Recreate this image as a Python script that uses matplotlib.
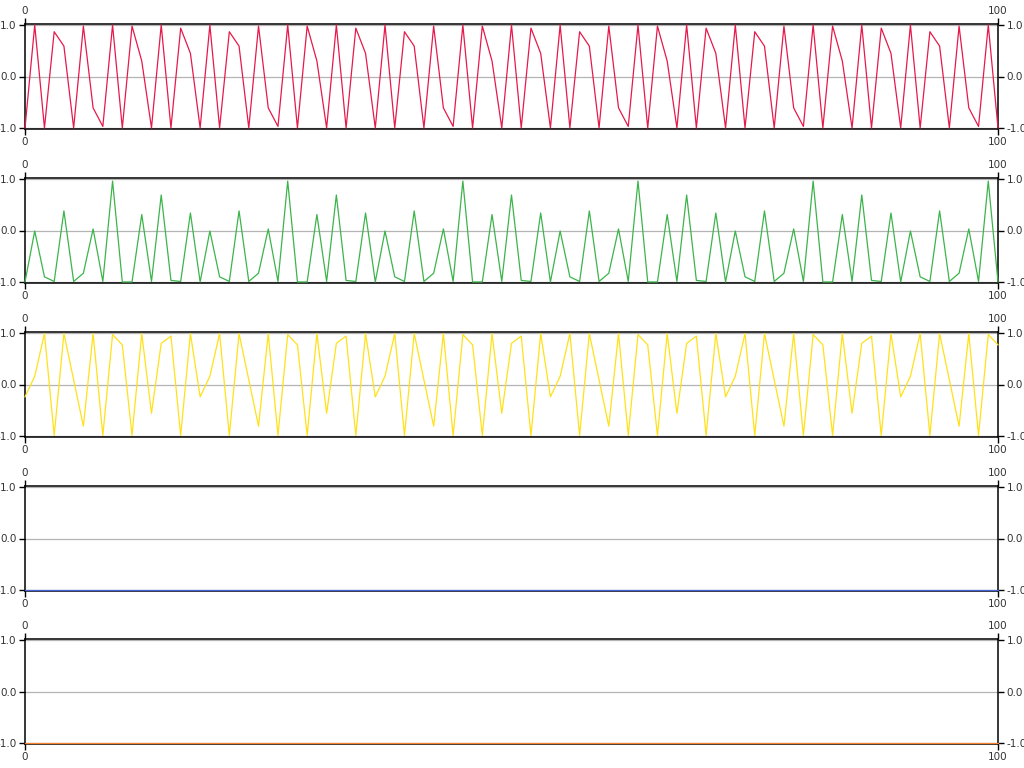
import matplotlib
matplotlib.use("Agg")
import matplotlib.pyplot as plt

x_values = list(range(101))

red_values = [
    -1, 1, -1, 0.87, 0.59, -1, 0.98, -0.61, -0.97, 1, -1, 0.98, 0.30, -1, 1, -1, 0.94, 0.45,
    -1, 1, -1, 0.87, 0.59, -1, 0.98, -0.61, -0.97, 1, -1, 0.98, 0.30, -1, 1, -1, 0.94, 0.45,
    -1, 1, -1, 0.87, 0.59, -1, 0.98, -0.61, -0.97, 1, -1, 0.98, 0.30, -1, 1, -1, 0.94, 0.45,
    -1, 1, -1, 0.87, 0.59, -1, 0.98, -0.61, -0.97, 1, -1, 0.98, 0.30, -1, 1, -1, 0.94, 0.45,
    -1, 1, -1, 0.87, 0.59, -1, 0.98, -0.61, -0.97, 1, -1, 0.98, 0.30, -1, 1, -1, 0.94, 0.45,
    -1, 1, -1, 0.87, 0.59, -1, 0.98, -0.61, -0.97, 1, -1,
]

green_values = [
    -1, -0.01, -0.90, -0.99, 0.38, -0.99, -0.83, 0.03, -0.99, 0.96, -1, -1, 0.31, -0.99, 0.69, -0.97, -0.99, 0.34,
    -1, -0.01, -0.90, -0.99, 0.38, -0.99, -0.83, 0.03, -0.99, 0.96, -1, -1, 0.31, -0.99, 0.69, -0.97, -0.99, 0.34,
    -1, -0.01, -0.90, -0.99, 0.38, -0.99, -0.83, 0.03, -0.99, 0.96, -1, -1, 0.31, -0.99, 0.69, -0.97, -0.99, 0.34,
    -1, -0.01, -0.90, -0.99, 0.38, -0.99, -0.83, 0.03, -0.99, 0.96, -1, -1, 0.31, -0.99, 0.69, -0.97, -0.99, 0.34,
    -1, -0.01, -0.90, -0.99, 0.38, -0.99, -0.83, 0.03, -0.99, 0.96, -1, -1, 0.31, -0.99, 0.69, -0.97, -0.99, 0.34,
    -1, -0.01, -0.90, -0.99, 0.38, -0.99, -0.83, 0.03, -0.99, 0.96, -1,
]

yellow_values = [
    -0.24, 0.16, 0.99, -0.99, 0.99, 0.09, -0.81, 0.99, -0.99, 0.97, 0.77, -0.99, 0.99, -0.56, 0.80, 0.94, -0.99, 0.99,
    -0.24, 0.16, 0.99, -0.99, 0.99, 0.09, -0.81, 0.99, -0.99, 0.97, 0.77, -0.99, 0.99, -0.56, 0.80, 0.94, -0.99, 0.99,
    -0.24, 0.16, 0.99, -0.99, 0.99, 0.09, -0.81, 0.99, -0.99, 0.97, 0.77, -0.99, 0.99, -0.56, 0.80, 0.94, -0.99, 0.99,
    -0.24, 0.16, 0.99, -0.99, 0.99, 0.09, -0.81, 0.99, -0.99, 0.97, 0.77, -0.99, 0.99, -0.56, 0.80, 0.94, -0.99, 0.99,
    -0.24, 0.16, 0.99, -0.99, 0.99, 0.09, -0.81, 0.99, -0.99, 0.97, 0.77, -0.99, 0.99, -0.56, 0.80, 0.94, -0.99, 0.99,
    -0.24, 0.16, 0.99, -0.99, 0.99, 0.09, -0.81, 0.99, -0.99, 0.97, 0.77,
]

blue_values = [-1.0] * 101
orange_values = [-1.0] * 101

series = [red_values, green_values, yellow_values, blue_values, orange_values]
colors = ["#e6194b", "#3cb44b", "#ffe119", "#4363d8", "#f58231"]

x_ticks = [0, 100]
y_ticks = [-1, 0, 1]
y_tick_labels = ["-1.0", "0.0", "1.0"]

W, H = 1024, 768
fig = plt.figure(figsize=(W / 100, H / 100), dpi=100)

left_px, right_px = 25, 998
tops = [24, 178, 332, 486, 639]
panel_h = 105

for vals, col, top in zip(series, colors, tops):
    ax = fig.add_axes([left_px / W, 1 - (top + panel_h) / H,
                       (right_px - left_px) / W, panel_h / H])
    ax.set_xlim(0, 100)
    ax.set_ylim(-1.02, 1.02)
    for yv in y_ticks:
        ax.axhline(yv, color="#b4b4b4", lw=0.9, zorder=1)
    ax.plot(x_values, vals, color=col, lw=0.9, zorder=3, clip_on=False)
    ax.set_xticks(x_ticks)
    ax.set_xticklabels([str(t) for t in x_ticks])
    ax.set_yticks(y_ticks)
    ax.set_yticklabels(y_tick_labels)
    ax.tick_params(axis="both", which="both", direction="out", length=4, width=1,
                   labelsize=7.5, labelcolor="#333333", color="black", pad=2,
                   top=True, labeltop=True, right=True, labelright=True)
    for s in ax.spines.values():
        s.set_color("black")
        s.set_linewidth(1.1)
    ax.set_facecolor("white")

fig.savefig("out.png", dpi=100, facecolor="white")
